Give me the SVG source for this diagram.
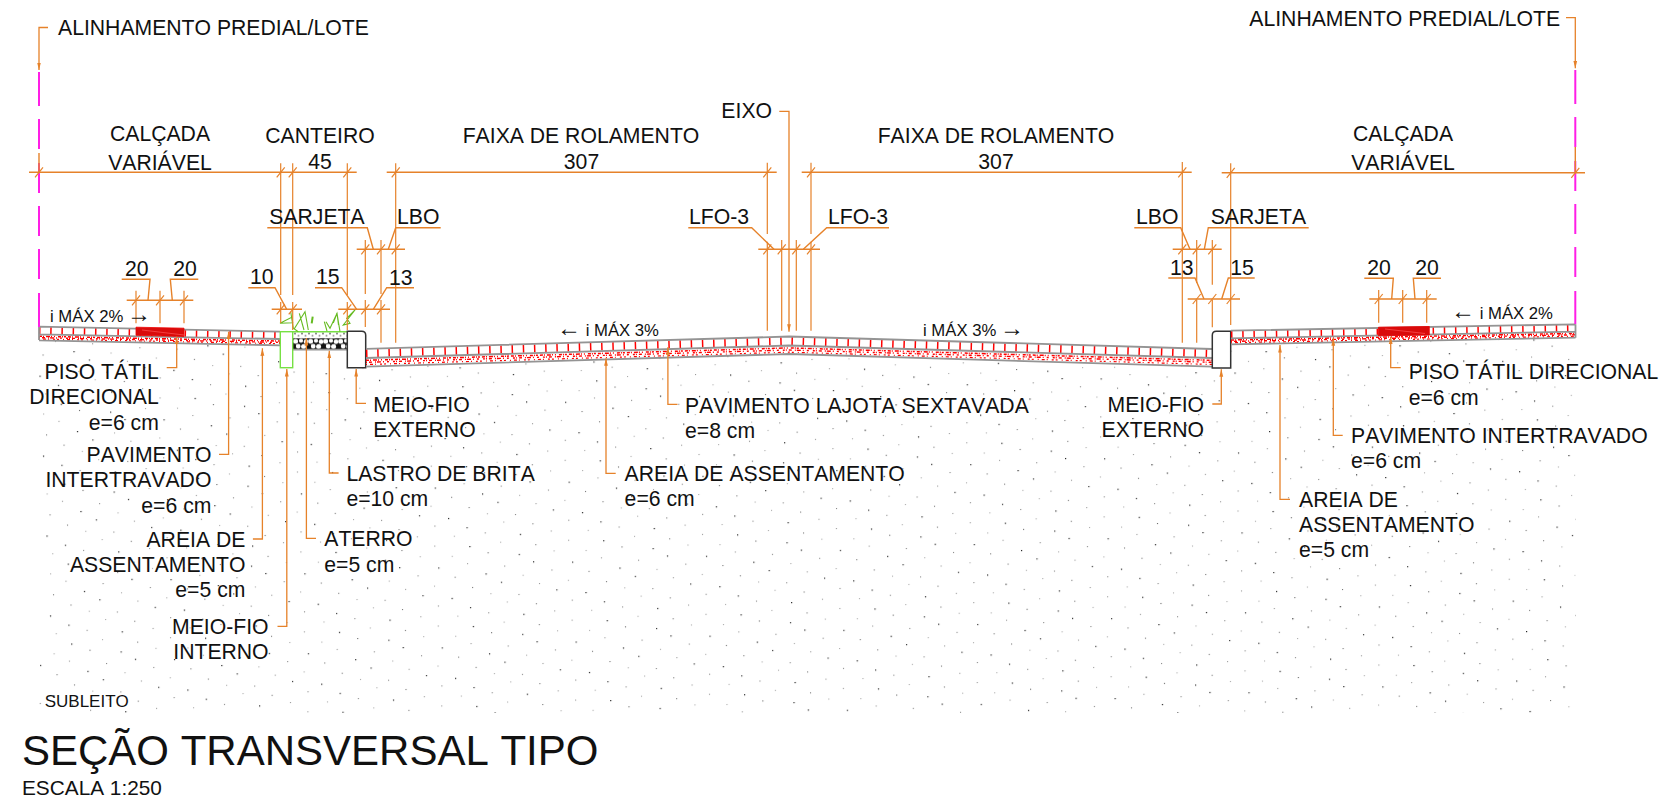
<svg xmlns="http://www.w3.org/2000/svg" width="1660" height="809" viewBox="0 0 1660 809">
<style>
text{font-family:"Liberation Sans",Arial,sans-serif;fill:#111;font-size:21.2px;font-kerning:none}
.e{text-anchor:end}.m{text-anchor:middle}
.s{font-size:16.7px}
.ar{font-size:24px}
.o{fill:none;stroke:#e6822a;stroke-width:1.4}
.l{fill:none;stroke:#e6822a;stroke-width:1.3;marker-end:url(#ah)}
.t{fill:none;stroke:#e6822a;stroke-width:1.2}
.mag{fill:none;stroke:#ff1ee6;stroke-width:2}
.g{fill:none;stroke:#949494;stroke-width:1.8}
.k{fill:none;stroke:#ff0000;stroke-width:7.6;stroke-dasharray:1.5 9.7}
.a{fill:none;stroke:#f00;stroke-width:1.5;stroke-dasharray:3 1 1 2 4 1 1 2 1 3 3 1 1 1 2 2}
.b{fill:none;stroke:#f00;stroke-width:1.4;stroke-dasharray:1 2 3 3 1 1 4 2 1 3 2 4 2 1}
.c{fill:none;stroke:#f00;stroke-width:1.2;stroke-dasharray:1 3 3 2 1 4 2 2 2 4}
.gr{fill:none;stroke:#66bb22;stroke-width:1.1}
.curb{fill:#fff;stroke:#333;stroke-width:1.5}
</style>
<defs>
<marker id="ah" markerUnits="userSpaceOnUse" markerWidth="8" markerHeight="5" viewBox="0 -2.5 8 5" refX="7.5" refY="0" orient="auto"><path d="M0,-1.9L7.5,0L0,1.9z" fill="#e6822a"/></marker>
<path id="tk" class="t" d="M-4,5L4,-5"/>
<pattern id="dots" patternUnits="userSpaceOnUse" width="134" height="80" patternTransform="rotate(-2.5)">
<rect x="8" y="4" width="1.1" height="1.1" fill="#999"/><rect x="43" y="6" width="1.2" height="1.2" fill="#222"/><rect x="74" y="3" width="1.1" height="1.1" fill="#aaa"/><rect x="109" y="7" width="1.1" height="1.1" fill="#777"/>
<rect x="25" y="15" width="1.1" height="1.1" fill="#aaa"/><rect x="61" y="13" width="1.1" height="1.1" fill="#666"/><rect x="92" y="16" width="1.2" height="1.2" fill="#333"/><rect x="127" y="14" width="1.1" height="1.1" fill="#aaa"/>
<rect x="11" y="26" width="1.2" height="1.2" fill="#333"/><rect x="40" y="23" width="1.1" height="1.1" fill="#999"/><rect x="77" y="27" width="1.1" height="1.1" fill="#888"/><rect x="106" y="24" width="1.2" height="1.2" fill="#222"/>
<rect x="27" y="36" width="1.1" height="1.1" fill="#777"/><rect x="58" y="34" width="1.2" height="1.2" fill="#222"/><rect x="95" y="37" width="1.1" height="1.1" fill="#aaa"/><rect x="124" y="33" width="1.1" height="1.1" fill="#888"/>
<rect x="6" y="44" width="1.1" height="1.1" fill="#aaa"/><rect x="44" y="47" width="1.1" height="1.1" fill="#777"/><rect x="73" y="43" width="1.2" height="1.2" fill="#333"/><rect x="111" y="46" width="1.1" height="1.1" fill="#999"/>
<rect x="23" y="57" width="1.2" height="1.2" fill="#222"/><rect x="62" y="54" width="1.1" height="1.1" fill="#aaa"/><rect x="90" y="56" width="1.1" height="1.1" fill="#888"/><rect x="128" y="53" width="1.2" height="1.2" fill="#333"/>
<rect x="9" y="64" width="1.1" height="1.1" fill="#888"/><rect x="41" y="67" width="1.2" height="1.2" fill="#333"/><rect x="78" y="63" width="1.1" height="1.1" fill="#aaa"/><rect x="107" y="66" width="1.1" height="1.1" fill="#777"/>
<rect x="28" y="75" width="1.1" height="1.1" fill="#aaa"/><rect x="59" y="73" width="1.1" height="1.1" fill="#888"/><rect x="94" y="76" width="1.2" height="1.2" fill="#222"/><rect x="125" y="74" width="1.1" height="1.1" fill="#999"/>
</pattern>
<pattern id="brita" patternUnits="userSpaceOnUse" width="15" height="11" y="338.3" x="293">
<rect width="15" height="11" fill="#111"/><circle cx="2.6" cy="3" r="2.5" fill="#fff"/><circle cx="8" cy="2.4" r="2.1" fill="#fff"/><circle cx="13" cy="3.4" r="2.3" fill="#fff"/><circle cx="5.2" cy="8" r="2.4" fill="#fff"/><circle cx="10.6" cy="8.2" r="2.5" fill="#fff"/>
</pattern>
<pattern id="ater" patternUnits="userSpaceOnUse" width="7" height="5.4" y="332" x="293">
<rect width="7" height="5.4" fill="#fff"/><circle cx="2" cy="1.5" r="1" fill="#777"/><circle cx="5.5" cy="3.8" r="1" fill="#999"/>
</pattern>
</defs>
<rect width="1660" height="809" fill="#fff"/>

<g id="subleito">
<polygon points="39,340 280,345 280,368 366,368 366,366.7 789,354 1212,366.7 1212,368 1231,368 1231,344.3 1575.5,337.7 1575.5,713 39,713" fill="url(#dots)"/>
</g>

<g id="calcada-esquerda">
<path class="k" d="M39,330.5L280,335.3"/>
<path class="a" d="M39,336.3L280,341"/><path class="b" d="M39,337.7L280,342.4"/><path class="c" d="M39,339L280,343.7"/>
<path class="g" d="M39,326.7L280,331.7M39,334.3L280,339M39,340.3L280,345.3M39,326.7V340"/>
<polygon points="136,327.2 184,328.2 184,336.5 136,335.3" fill="#d90b0b" stroke="#e00" stroke-width=".8"/>
<path d="M142,330L184,335" stroke="#f55" stroke-width=".7" fill="none"/>
</g>

<g id="canteiro">
<rect x="293" y="331.7" width="54.3" height="5.6" fill="url(#ater)"/>
<rect x="293" y="338.3" width="54.3" height="10.8" fill="url(#brita)"/>
<path class="g" d="M293,349.7H347"/>
<path class="gr" style="stroke:#77e044;stroke-width:1.4" d="M292.7,331.7H347.3"/>
<rect id="meio-fio-interno" x="280.3" y="331.7" width="12.4" height="36" fill="#fff" stroke="#77e044" stroke-width="1.4"/>
<path class="gr" d="M280,323.3L291.7,317.3L292.7,322.7ZM290.7,311.7L293.3,328.3L298.3,331.7M294,329.3L305,311.7L308.3,330M299.3,313.3L304,330M324.3,321.7L327,331M326,321.7L330,328.3L337,313.3L340,331.7M333.3,323L337,313.3L338.5,325M343.3,325L355,310L346.7,318.3L350,323.3Z"/>
<path class="gr" style="stroke-width:2" d="M312.7,316.7L311.7,323.3"/>
</g>

<g id="meio-fio-externo-esquerdo">
<path class="curb" d="M347.3,331.2H361.7Q365.7,331.2 365.7,335.2V367.7H347.3Z"/>
</g>

<g id="pista">
<path class="k" d="M366,353.3L789,341L1212,353.5" style="stroke-width:8"/>
<path class="a" d="M366,360.3L789,347.9L1212,360.3"/><path class="b" d="M366,362.3L789,350L1212,362.3"/><path class="c" d="M366,364.5L789,352.2L1212,364.5"/>
<path class="g" d="M366,348.8L789,336.5L1212,349M366,358L789,345.5L1212,358M366,366.7L789,354L1212,366.7"/>
</g>

<g id="meio-fio-externo-direito">
<path class="curb" d="M1230.7,331.3H1216.3Q1212.3,331.3 1212.3,335.3V368H1230.7Z"/>
</g>

<g id="calcada-direita">
<path class="k" d="M1231,334.4L1575.5,327.9"/>
<path class="a" d="M1231,340L1575.5,333.4"/><path class="b" d="M1231,341.4L1575.5,334.8"/><path class="c" d="M1231,342.8L1575.5,336.2"/>
<path class="g" d="M1231,330.7L1575.5,324.3M1231,338.3L1575.5,331.7M1231,344.3L1575.5,337.7M1575.5,324.3V337.7"/>
<polygon points="1378.5,327.2 1429.3,326.5 1429.3,335 1378.5,335.8" fill="#d90b0b" stroke="#e00" stroke-width=".8"/>
<path d="M1385,329L1425,333.5" stroke="#f55" stroke-width=".7" fill="none"/>
</g>

<g id="alinhamento">
<path class="mag" d="M39,72V106M39,119V149M39,163V193M39,206V236M39,249V279M39,293V327"/>
<path class="mag" d="M1575.3,70V104M1575.3,117V147M1575.3,161V191M1575.3,204V234M1575.3,247V277M1575.3,291V324"/>
</g>

<g id="connectors">
<path class="o" d="M29,172.3H356.7M386.7,172.3H776.7M801.7,172.3H1191.7M1221.7,172.8H1585"/>
<path class="o" d="M39,153V172.3M1575.3,147V172.8"/>
<path class="t" d="M280.7,163.3V295M280.7,302V323M292.7,163.3V295M292.7,302V330M347.3,163.3V295M347.3,302V330M365.3,240V294M365.3,300V327M381,240V294M381,300V342.7M395.7,163.3V342.7"/>
<path class="t" d="M767.3,162.7V234M767.3,241.7V330.7M811,162.7V234M811,241.7V330.7M781.7,240V330.7M796.3,240V330.7"/>
<path class="t" d="M1182.3,162V342.7M1196.7,240V283M1196.7,300V342.7M1212.3,240V284.7M1212.3,300V327.3M1230.7,163.3V325"/>
<path class="o" d="M271.7,309.3H302M338.3,309.3H390M356.7,249.3H405M758.3,249.3H820M1172.7,249.3H1221.7M1187.7,299H1240M126.7,300.3H193.3M1369.3,299H1436.7"/>
<path class="t" d="M136,290.7V323.3M160,290.7V323.3M184,290.7V323.3M1378.7,290V322.7M1402.7,290V322.7M1426.7,290V322.7"/>
<path class="o" d="M121.7,279.3H150L148,300.3M198.3,279.3H170.3L172.3,300.3"/>
<path class="o" d="M248.3,287.7H275L286.7,309.3M315,287.7H341.7L356.7,309.3M414,287.7H386.7L373.3,309.3"/>
<path class="o" d="M267.3,227.7H367.3L373.3,249.3M440.7,227.7H395.7L388.3,249.3"/>
<path class="o" d="M688.3,227.7H751.7L774,249.3M889,227.7H826.7L803.3,249.3"/>
<path class="o" d="M1134.3,227.7H1180.7L1190,249.3M1308.7,227.7H1208.3L1204.3,249.3"/>
<path class="o" d="M1168.3,278H1195L1204,299M1254.7,278H1228.3L1221.7,299"/>
<path class="o" d="M1364.3,278.3H1393.3L1391.7,299M1441,278.3H1413.3L1415,299"/>
<use href="#tk" x="39" y="172.3"/><use href="#tk" x="280.7" y="172.3"/><use href="#tk" x="292.7" y="172.3"/><use href="#tk" x="347.3" y="172.3"/><use href="#tk" x="395.7" y="172.3"/><use href="#tk" x="767.3" y="172.3"/><use href="#tk" x="811" y="172.3"/><use href="#tk" x="1182.3" y="172.3"/><use href="#tk" x="1230.7" y="172.8"/><use href="#tk" x="1575.3" y="172.8"/>
<use href="#tk" x="280.7" y="309.3"/><use href="#tk" x="292.7" y="309.3"/><use href="#tk" x="347.3" y="309.3"/><use href="#tk" x="365.3" y="309.3"/><use href="#tk" x="381" y="309.3"/>
<use href="#tk" x="365.3" y="249.3"/><use href="#tk" x="381" y="249.3"/><use href="#tk" x="395.7" y="249.3"/>
<use href="#tk" x="767.3" y="249.3"/><use href="#tk" x="781.7" y="249.3"/><use href="#tk" x="796.3" y="249.3"/><use href="#tk" x="811" y="249.3"/>
<use href="#tk" x="1182.3" y="249.3"/><use href="#tk" x="1196.7" y="249.3"/><use href="#tk" x="1212.3" y="249.3"/>
<use href="#tk" x="1196.7" y="299"/><use href="#tk" x="1212.3" y="299"/><use href="#tk" x="1230.7" y="299"/>
<use href="#tk" x="136" y="300.3"/><use href="#tk" x="160" y="300.3"/><use href="#tk" x="184" y="300.3"/>
<use href="#tk" x="1378.7" y="299"/><use href="#tk" x="1402.7" y="299"/><use href="#tk" x="1426.7" y="299"/>
<path class="l" d="M48,27.5H39V70"/>
<path class="l" d="M1566,17.7H1575.3V68.3"/>
<path class="l" d="M779.3,111.3H789V331.7"/>
<path class="l" d="M166.7,367.7H176.7V336.7"/>
<path class="l" d="M219,454.3H228.6V331.7"/>
<path class="l" d="M252.9,539H262.4V348.3"/>
<path class="l" d="M277.5,626.3H286.8V369"/>
<path class="l" d="M316,538.3H306.4V338"/>
<path class="l" d="M338.6,473H329.3V350.7"/>
<path class="l" d="M366,403.3H356.2V369"/>
<path class="l" d="M677.5,404.3H667.9V347.3"/>
<path class="l" d="M615.7,473.3H606V358.3"/>
<path class="l" d="M1212.3,404H1221.3V369.3"/>
<path class="l" d="M1400.7,367.7H1390.7V336.7"/>
<path class="l" d="M1342.7,435.3H1333.3V338.3"/>
<path class="l" d="M1290,499.3H1280V345"/>
</g>

<g id="rotulos">
<text x="58" y="35">ALINHAMENTO PREDIAL/LOTE</text>
<text x="1249.3" y="25.7">ALINHAMENTO PREDIAL/LOTE</text>
<text class="m" x="160" y="141">CALÇADA</text><text class="m" x="160" y="170">VARIÁVEL</text>
<text class="m" x="320" y="143.3">CANTEIRO</text><text class="m" x="320" y="169">45</text>
<text class="m" x="581" y="143.3">FAIXA DE ROLAMENTO</text><text class="m" x="581.5" y="169">307</text>
<text class="e" x="772" y="118">EIXO</text>
<text class="m" x="996" y="143.3">FAIXA DE ROLAMENTO</text><text class="m" x="996" y="169">307</text>
<text class="m" x="1403" y="141">CALÇADA</text><text class="m" x="1403" y="170">VARIÁVEL</text>
<text x="269.3" y="224.3">SARJETA</text><text x="397" y="224.3">LBO</text>
<text x="689" y="224.3">LFO-3</text><text x="828" y="224.3">LFO-3</text>
<text x="1136" y="224.3">LBO</text><text x="1210.7" y="224.3">SARJETA</text>
<text x="125" y="276">20</text><text x="173.3" y="276">20</text>
<text x="250" y="284.3">10</text><text x="316" y="284.3">15</text><text x="389" y="284.7">13</text>
<text x="1170" y="275">13</text><text x="1230.3" y="275">15</text>
<text x="1367.3" y="275.3">20</text><text x="1415.3" y="275.3">20</text>
<text class="s" x="50" y="321.7">i MÁX 2% <tspan class="ar" dx="-1">→</tspan></text>
<text class="s" x="557" y="336"><tspan class="ar">←</tspan> i MÁX 3%</text>
<text class="s" x="923" y="336">i MÁX 3% <tspan class="ar" dx="-1">→</tspan></text>
<text class="s" x="1451" y="319.3"><tspan class="ar">←</tspan> i MÁX 2%</text>
<text class="e" x="158.8" y="379.3">PISO TÁTIL</text><text class="e" x="158.8" y="404.3">DIRECIONAL</text><text class="e" x="158.8" y="430">e=6 cm</text>
<text class="e" x="211.4" y="461.7">PAVIMENTO</text><text class="e" x="211.4" y="487.3">INTERTRAVADO</text><text class="e" x="211.4" y="512.7">e=6 cm</text>
<text class="e" x="245.4" y="546.7">AREIA DE</text><text class="e" x="245.4" y="571.7">ASSENTAMENTO</text><text class="e" x="245.4" y="597.3">e=5 cm</text>
<text class="e" x="268.6" y="634">MEIO-FIO</text><text class="e" x="268.6" y="659.3">INTERNO</text>
<text x="324.3" y="546">ATERRO</text><text x="324.3" y="571.7">e=5 cm</text>
<text x="346.4" y="480.7">LASTRO DE BRITA</text><text x="346.4" y="506">e=10 cm</text>
<text x="373.2" y="411.7">MEIO-FIO</text><text x="373.2" y="436.7">EXTERNO</text>
<text x="685" y="412.7">PAVIMENTO LAJOTA SEXTAVADA</text><text x="685" y="438">e=8 cm</text>
<text x="624.6" y="481">AREIA DE ASSENTAMENTO</text><text x="624.6" y="506">e=6 cm</text>
<text class="e" x="1204" y="411.7">MEIO-FIO</text><text class="e" x="1204" y="437">EXTERNO</text>
<text x="1408.7" y="379.3">PISO TÁTIL DIRECIONAL</text><text x="1408.7" y="405">e=6 cm</text>
<text x="1351" y="442.7">PAVIMENTO INTERTRAVADO</text><text x="1351" y="468.3">e=6 cm</text>
<text x="1299" y="506.7">AREIA DE</text><text x="1299" y="532.3">ASSENTAMENTO</text><text x="1299" y="557.3">e=5 cm</text>
<text x="44.7" y="706.7" style="font-size:17px">SUBLEITO</text>
<text x="22" y="765" style="font-size:42px">SEÇÃO TRANSVERSAL TIPO</text>
<text x="22" y="795" style="font-size:20.8px">ESCALA 1:250</text>
</g>
</svg>
